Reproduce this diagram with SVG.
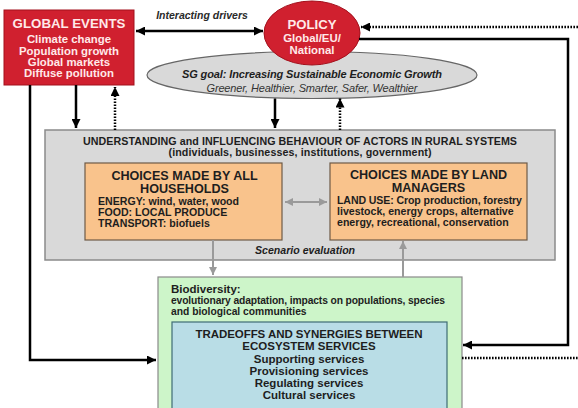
<svg xmlns="http://www.w3.org/2000/svg" width="578" height="408" viewBox="0 0 578 408">
<style>
text{font-family:"Liberation Sans",Arial,sans-serif;font-weight:bold;fill:#1e1e1e}
.red{fill:#ffe9e9}
.c{text-anchor:middle}
.it{font-style:italic}
.blk{fill:none;stroke:#000;stroke-width:2.5}
.dot{fill:none;stroke:#000;stroke-width:2.5;stroke-dasharray:1.6 1.4}
.gry{fill:none;stroke:#9a9a9a;stroke-width:2}
</style>
<defs>
<marker id="ah" viewBox="0 0 10 10" refX="10" refY="5" markerWidth="10" markerHeight="9" markerUnits="userSpaceOnUse" orient="auto-start-reverse"><path d="M0,0 L10,5 L0,10 z" fill="#000"/></marker>
<marker id="ag" viewBox="0 0 10 10" refX="10" refY="5" markerWidth="9" markerHeight="8" markerUnits="userSpaceOnUse" orient="auto-start-reverse"><path d="M0,0 L10,5 L0,10 z" fill="#9a9a9a"/></marker>
</defs>
<rect width="578" height="408" fill="#fff"/>

<g id="global-events">
<rect x="4" y="10" width="130" height="75" fill="#d0202f" stroke="#a3101c" stroke-width="1"/>
<text class="red c" x="69" y="28" font-size="13.3">GLOBAL EVENTS</text>
<text class="red c" x="69" y="43" font-size="11.4">Climate change</text>
<text class="red c" x="69" y="54.5" font-size="11.4">Population growth</text>
<text class="red c" x="69" y="65.5" font-size="11.4">Global markets</text>
<text class="red c" x="69" y="76.5" font-size="11.4">Diffuse pollution</text>
</g>

<g id="sg-goal">
<ellipse cx="312" cy="75" rx="165" ry="23.5" fill="#d9d9d9" stroke="#666" stroke-width="1.2"/>
<text class="c it" x="312" y="78" font-size="11" textLength="260">SG goal: Increasing Sustainable Economic Growth</text>
<text class="c it" x="312" y="92" font-size="11" style="font-weight:normal;fill:#333" textLength="211">Greener, Healthier, Smarter, Safer, Wealthier</text>
</g>

<g id="policy">
<ellipse cx="312" cy="33" rx="48" ry="32" fill="#d0202f" stroke="#a3101c" stroke-width="1"/>
<text class="red c" x="312" y="29" font-size="13.2">POLICY</text>
<text class="red c" x="312" y="42" font-size="11.4">Global/EU/</text>
<text class="red c" x="312" y="54" font-size="11.4">National</text>
</g>

<g id="rural-actors">
<rect x="45" y="130" width="510" height="130" fill="#d9d9d9" stroke="#8a8a8a" stroke-width="1.5"/>
<text class="c" x="300" y="145" font-size="10.7" textLength="434">UNDERSTANDING and INFLUENCING BEHAVIOUR OF ACTORS IN RURAL SYSTEMS</text>
<text class="c" x="300" y="156" font-size="10.7" textLength="263">(individuals, businesses, institutions, government)</text>
<text class="it" x="255" y="254" font-size="10.6">Scenario evaluation</text>
</g>

<g id="households">
<rect x="85" y="163" width="197" height="77" fill="#f9c38c" stroke="#6e5a46" stroke-width="1.2"/>
<text class="c" x="184.5" y="180" font-size="12.6">CHOICES MADE BY ALL</text>
<text class="c" x="184.5" y="193" font-size="12.6">HOUSEHOLDS</text>
<text x="98" y="205" font-size="10.6">ENERGY: wind, water, wood</text>
<text x="98" y="216" font-size="10.6">FOOD: LOCAL PRODUCE</text>
<text x="98" y="227" font-size="10.6">TRANSPORT: biofuels</text>
</g>

<g id="land-managers">
<rect x="330" y="163" width="197" height="77" fill="#f9c38c" stroke="#6e5a46" stroke-width="1.2"/>
<text class="c" x="428.5" y="179" font-size="12.6">CHOICES MADE BY LAND</text>
<text class="c" x="428.5" y="192" font-size="12.6">MANAGERS</text>
<text x="337" y="204" font-size="10.6" textLength="185">LAND USE: Crop production, forestry</text>
<text x="337" y="215" font-size="10.6">livestock, energy crops, alternative</text>
<text x="337" y="226" font-size="10.6">energy, recreational, conservation</text>
</g>

<g id="biodiversity">
<rect x="158" y="277" width="304" height="140" fill="#cdf5c9" stroke="#8a8a8a" stroke-width="1.2"/>
<text x="171" y="293" font-size="11.5">Biodiversity:</text>
<text x="171" y="304" font-size="10.3" textLength="274">evolutionary adaptation, impacts on populations, species</text>
<text x="171" y="315" font-size="10.3">and biological communities</text>
</g>

<g id="ecosystem-services">
<rect x="172" y="322" width="275" height="95" fill="#b9dde6" stroke="#3f6d74" stroke-width="1.2"/>
<text class="c" x="309" y="338" font-size="11.5" textLength="227">TRADEOFFS AND SYNERGIES BETWEEN</text>
<text class="c" x="309" y="350" font-size="11.5">ECOSYSTEM SERVICES</text>
<text class="c" x="309" y="363" font-size="11.5">Supporting services</text>
<text class="c" x="309" y="375" font-size="11.5">Provisioning services</text>
<text class="c" x="309" y="387" font-size="11.5">Regulating services</text>
<text class="c" x="309" y="399" font-size="11.5">Cultural services</text>
</g>

<g id="connectors">
<text class="it c" x="202" y="19" font-size="10.5" style="fill:#2a2a2a">Interacting drivers</text>
<path class="blk" d="M136,31 H263" marker-start="url(#ah)" marker-end="url(#ah)"/>
<path class="dot" d="M578,27 H361" marker-end="url(#ah)"/>
<path class="blk" d="M359,39 H568 V345 H463" marker-end="url(#ah)"/>
<path class="dot" d="M462,358 H578"/>
<path class="blk" d="M30,85 V360 H156" marker-end="url(#ah)"/>
<path class="blk" d="M76,85 V128" marker-end="url(#ah)"/>
<path class="dot" d="M115,130 V87" marker-end="url(#ah)"/>
<path class="blk" d="M275,98.5 V128" marker-end="url(#ah)"/>
<path class="dot" d="M340,130 V98.5" marker-end="url(#ah)"/>
<path class="gry" d="M285,202 H327" marker-start="url(#ag)" marker-end="url(#ag)"/>
<path class="gry" d="M213,240 V275" marker-end="url(#ag)"/>
<path class="gry" d="M403,277 V241" marker-end="url(#ag)"/>
</g>
</svg>
